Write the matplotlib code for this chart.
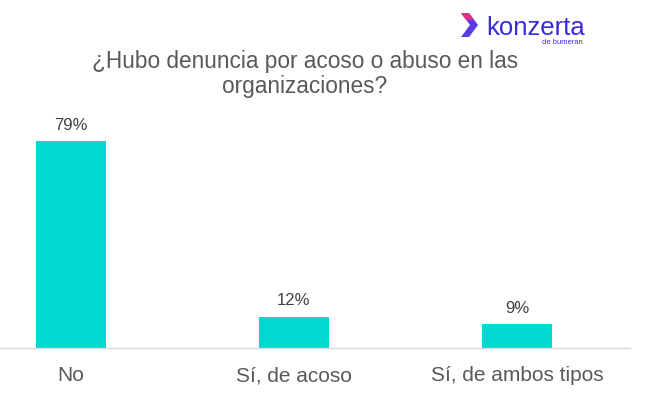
import matplotlib
matplotlib.use("Agg")
import matplotlib.pyplot as plt
from matplotlib.patches import Polygon

categories = ["No", "Sí, de acoso", "Sí, de ambos tipos"]
values = [79, 12, 9]
value_labels = ["79%", "12%", "9%"]
title = "¿Hubo denuncia por acoso o abuso en las\norganizaciones?"

plt.rcParams['font.family'] = ['Liberation Sans', 'DejaVu Sans']

W, H = 645, 394
fig = plt.figure(figsize=(W/100, H/100), dpi=100)
ax_left, ax_right = 0, 630
ax_bottom, ax_top = 348, 90
ax = fig.add_axes([ax_left/W, 1 - ax_bottom/H, (ax_right-ax_left)/W, (ax_bottom-ax_top)/H])

x = range(len(categories))
ax.bar(x, values, width=0.31, color="#00D9CF")
ax.set_xlim(-71/223, (630-71)/223)
ax.set_ylim(0, (348-90)/2.62)
for xi, v, lab in zip(x, values, value_labels):
    ax.annotate(lab, (xi, v), xytext=(0, 6), textcoords="offset points",
                ha="center", va="bottom", fontsize=12, color="#404040")

for s in ["top", "right", "left"]:
    ax.spines[s].set_visible(False)
ax.spines["bottom"].set_color("#D9D9D9")
ax.spines["bottom"].set_linewidth(1.0)
ax.set_yticks([])
ax.set_xticks(list(x))
ax.set_xticklabels(categories, fontsize=15, color="#595959")
ax.tick_params(axis="x", length=0, pad=13)

fig.text(305/W, 1 - 74/H, title, ha="center", va="center", fontsize=16.3,
         color="#595959", linespacing=1.12)

# logo
fig.text(486/W, 1 - 35/H, "konzerta", ha="left", va="baseline", fontsize=18.5,
         color="#3A2BD8")
fig.text(583/W, 1 - 42/H, "de bumeran", ha="right", va="center", fontsize=5.5,
         color="#3A2BD8")
chev = [(461, 13), (469, 13), (478, 25), (469, 37), (461, 37), (470, 25)]
fig.patches.append(Polygon([(px/W, 1 - py/H) for px, py in chev], closed=True,
                           transform=fig.transFigure, facecolor="#5B3BE8",
                           edgecolor="none"))
chev2 = [(461, 13), (469, 13), (474, 20), (466, 20)]
fig.patches.append(Polygon([(px/W, 1 - py/H) for px, py in chev2], closed=True,
                           transform=fig.transFigure, facecolor="#E0308F",
                           edgecolor="none"))

fig.savefig("out.png", dpi=100, facecolor="white")
